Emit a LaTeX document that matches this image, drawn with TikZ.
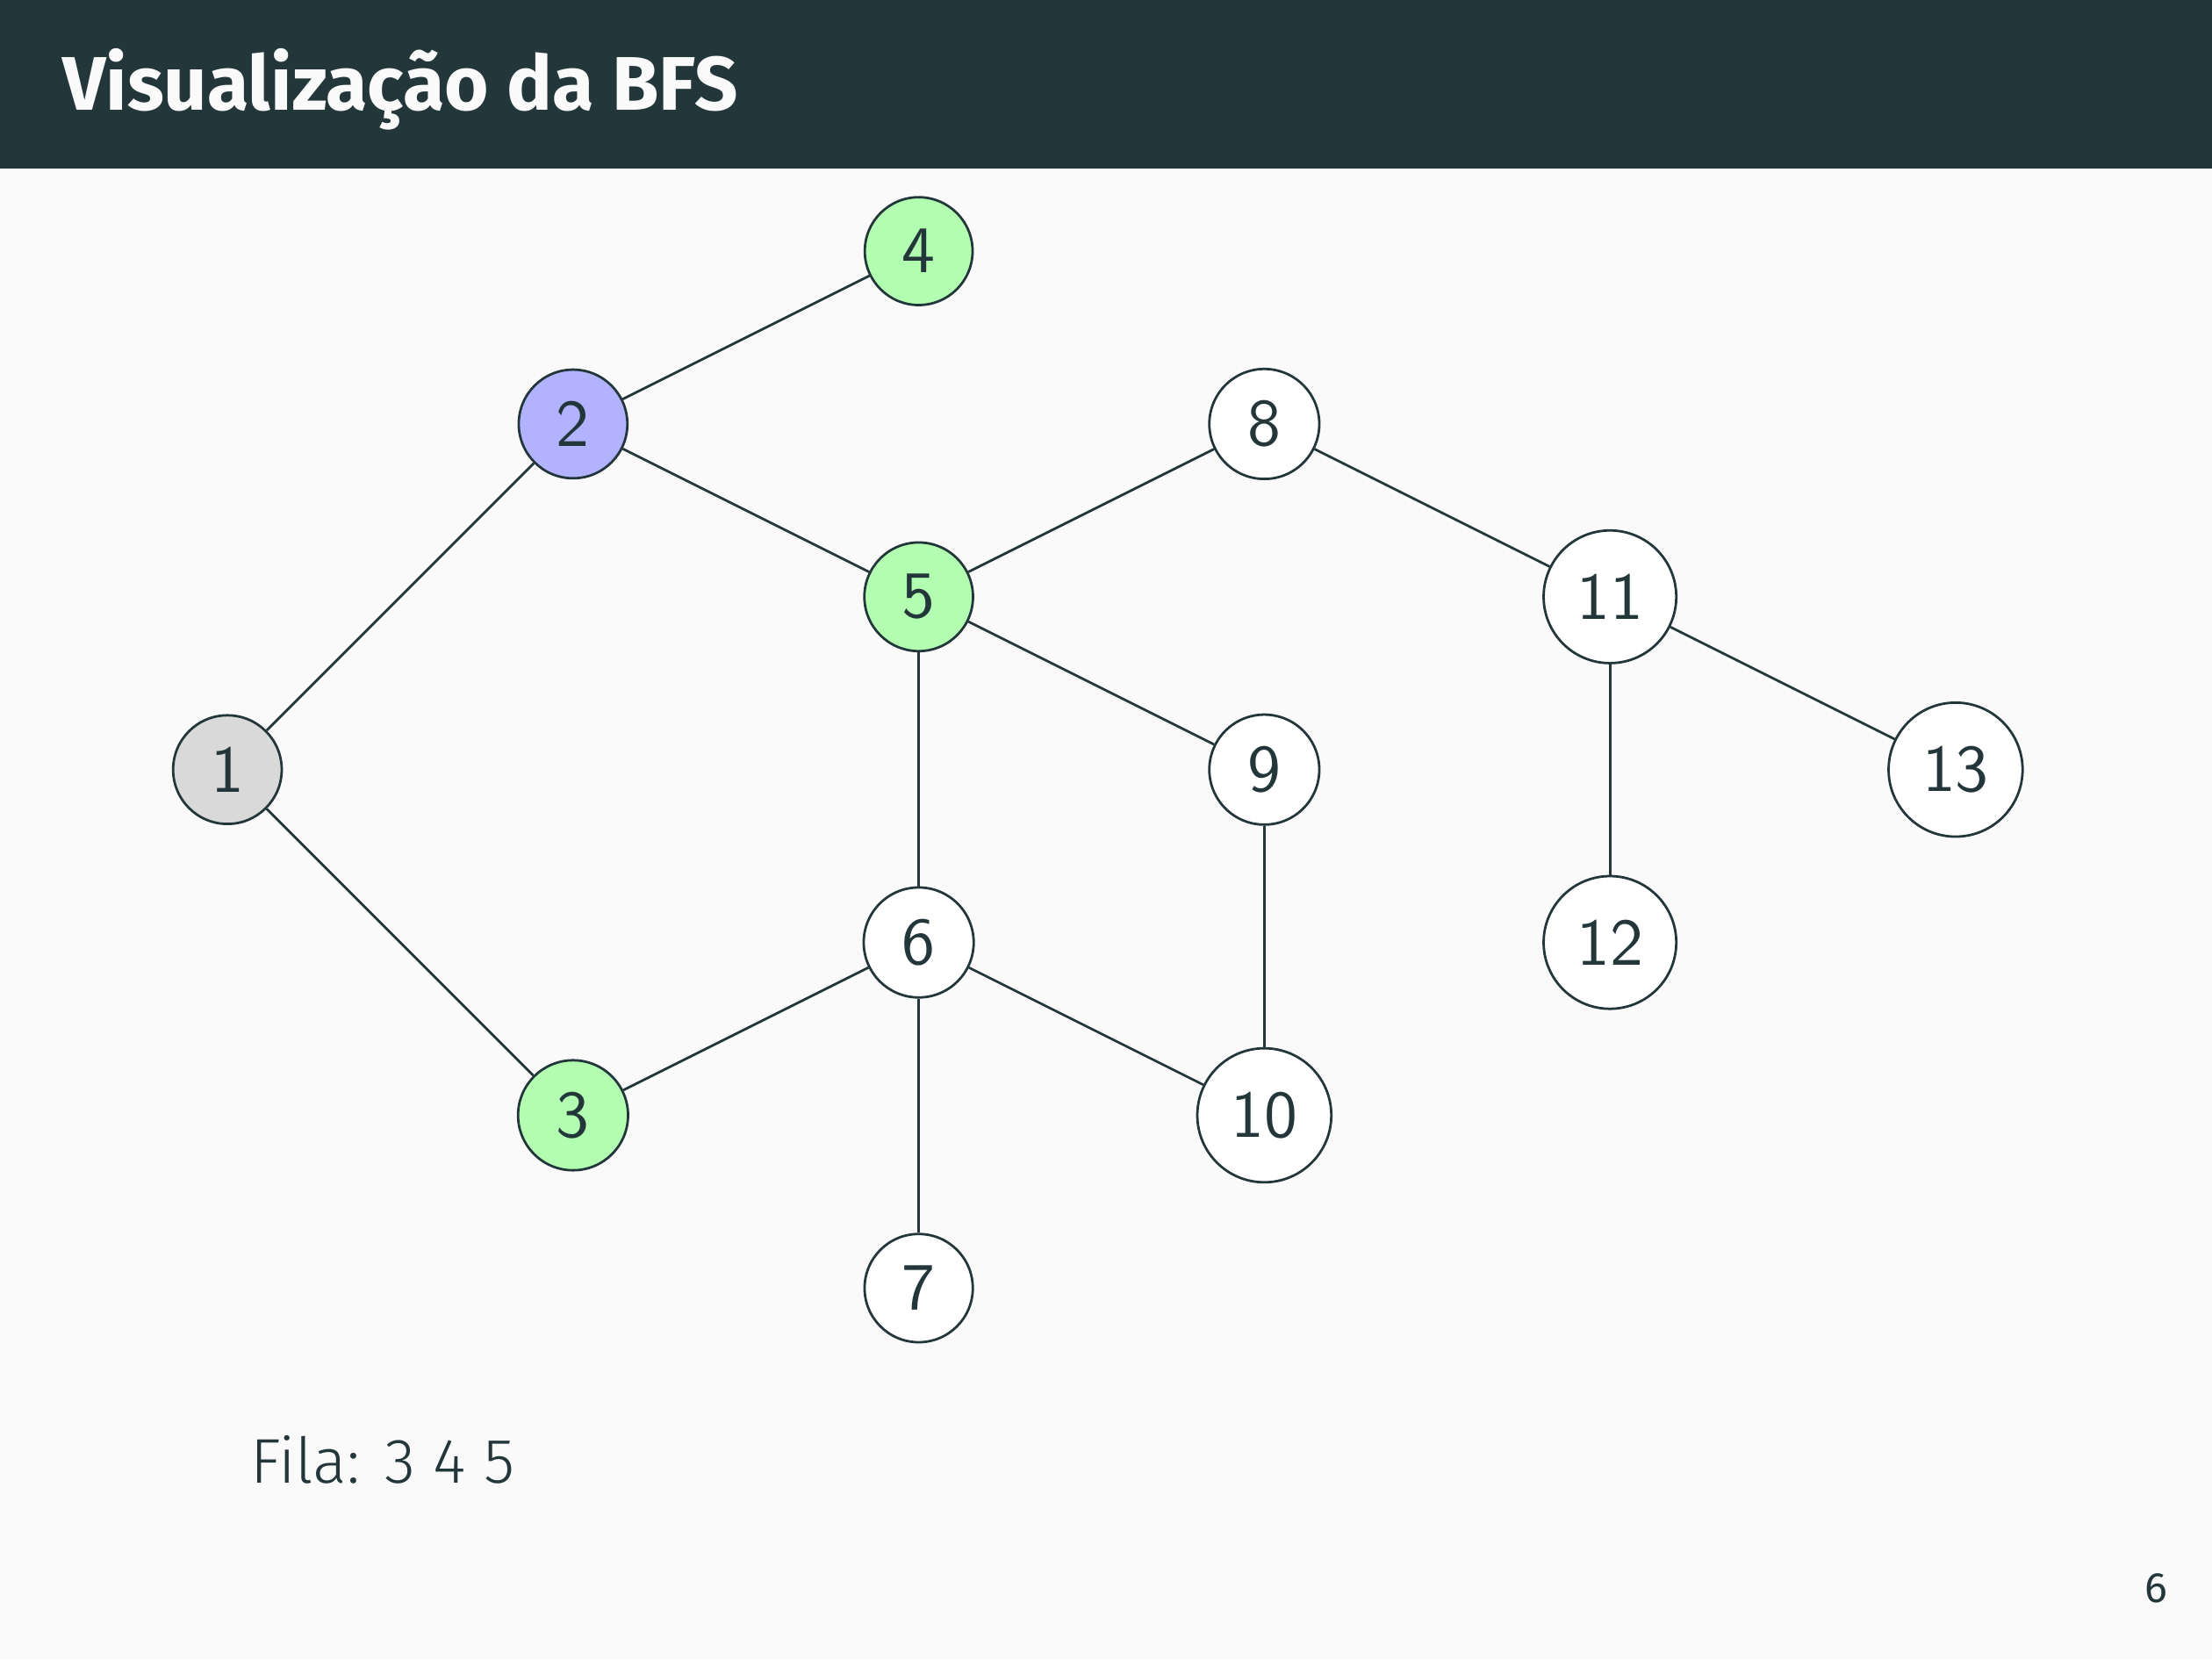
\documentclass[tikz,border=0pt]{standalone}
\usepackage{fontspec}
\newfontfamily\fira{Fira Sans}
\newfontfamily\firalight{Fira Sans Light}
\definecolor{mtext}{HTML}{23373B}
\definecolor{mbg}{HTML}{FAFAFA}
\begin{document}
\begin{tikzpicture}[
  x=1cm,y=1cm,
  vtx/.style={circle, draw=mtext, line width=0.4pt, fill=white, inner sep=3.1pt,
    font=\sffamily\fontsize{10.95}{13}\selectfont, text=mtext},
  visited/.style={vtx, fill=gray!30},
  current/.style={vtx, fill=blue!30},
  queued/.style={vtx, fill=green!30},
  edge/.style={draw=mtext, line width=0.4pt}
]
\fill[mbg] (-1.316,-5.147) rectangle (11.484,4.453);
\useasboundingbox (-1.316,-5.147) rectangle (11.484,4.453);
\fill[mtext] (-1.316,3.476) rectangle (11.484,4.453);
\node[anchor=base west, inner sep=0pt, text=mbg, font=\fira\bfseries\fontsize{12.5}{14}\selectfont] (title) at (-0.96,3.818) {Visualização da BFS};

\node[visited] (n1) at (0,0) {1};
\node[current] (n2) at (2,2) {2};
\node[queued] (n3) at (2,-2) {3};
\node[queued] (n4) at (4,3) {4};
\node[queued] (n5) at (4,1) {5};
\node[vtx] (n6) at (4,-1) {6};
\node[vtx] (n7) at (4,-3) {7};
\node[vtx] (n8) at (6,2) {8};
\node[vtx] (n9) at (6,0) {9};
\node[vtx] (n10) at (6,-2) {10};
\node[vtx] (n11) at (8,1) {11};
\node[vtx] (n12) at (8,-1) {12};
\node[vtx] (n13) at (10,0) {13};

\draw[edge] (n1) -- (n2);
\draw[edge] (n1) -- (n3);
\draw[edge] (n2) -- (n4);
\draw[edge] (n2) -- (n5);
\draw[edge] (n3) -- (n6);
\draw[edge] (n5) -- (n6);
\draw[edge] (n5) -- (n8);
\draw[edge] (n5) -- (n9);
\draw[edge] (n6) -- (n7);
\draw[edge] (n6) -- (n10);
\draw[edge] (n8) -- (n11);
\draw[edge] (n9) -- (n10);
\draw[edge] (n11) -- (n12);
\draw[edge] (n11) -- (n13);

\node[anchor=base west, inner sep=0pt, text=mtext, font=\firalight\fontsize{10.4}{13}\selectfont] (fila) at (0.125,-4.127) {Fila:\hspace{0.4em}3 4 5};
\node[anchor=base east, inner sep=0pt, text=mtext, font=\fira\fontsize{7}{8}\selectfont] (page) at (11.235,-4.817) {6};
\end{tikzpicture}
\end{document}
